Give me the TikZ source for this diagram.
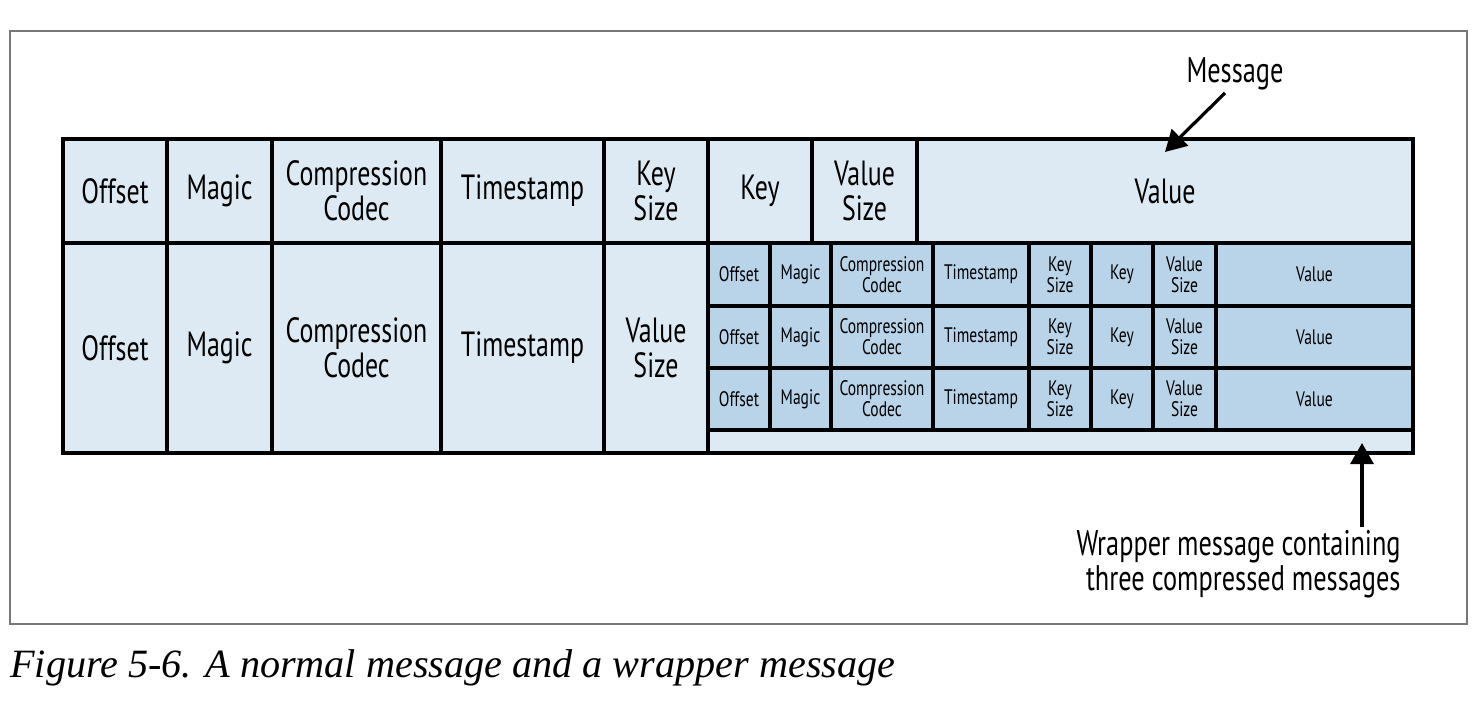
\documentclass[tikz,border=0pt]{standalone}
\usepackage{fontspec}
\setmainfont{PT Sans}[FakeStretch=0.74]
\newfontfamily\capfont{Liberation Serif}
\usetikzlibrary{fit,arrows.meta}
\definecolor{paleblue}{RGB}{221,234,243}
\definecolor{midblue}{RGB}{185,211,233}
\definecolor{framegray}{RGB}{120,120,120}
\begin{document}
\begin{tikzpicture}[x=0.5pt,y=-0.5pt,
  field/.style={draw=black, line width=2pt, fill=paleblue, inner sep=0pt},
  subfield/.style={draw=black, line width=1.6pt, fill=midblue, inner sep=0pt},
  ftext/.style={align=center, inner sep=0pt, font=\fontsize{17.5}{17.5}\selectfont},
  stext/.style={align=center, inner sep=0pt, font=\fontsize{10.5}{10.5}\selectfont},
  callout/.style={line width=1.6pt, -{Triangle[length=10.5pt,width=11.5pt]}},
  note/.style={align=right, inner sep=0pt, font=\fontsize{17.8}{17.5}\selectfont}]
\useasboundingbox (0,0) rectangle (1484,712);

% outer frame
\draw[framegray, line width=0.9pt] (10,31) rectangle (1467,624);

% normal message (top row)
\node[field, fit={(63,139) (167,243)},   label={[ftext]center:Offset}]               (tOff) {};
\node[field, fit={(167,139) (272,243)},  label={[ftext]center:Magic}]                (tMag) {};
\node[field, fit={(272,139) (441,243)},  label={[ftext]center:{Compression\\Codec}}] (tCmp) {};
\node[field, fit={(441,139) (604,243)},  label={[ftext]center:Timestamp}]            (tTs)  {};
\node[field, fit={(604,139) (708,243)},  label={[ftext]center:{Key\\Size}}]          (tKs)  {};
\node[field, fit={(708,139) (812,243)},  label={[ftext]center:Key}]                  (tKey) {};
\node[field, fit={(812,139) (917,243)},  label={[ftext]center:{Value\\Size}}]        (tVs)  {};
\node[field, fit={(917,139) (1413,243)}, label={[ftext]center:Value}]                (tVal) {};

% wrapper message (bottom row)
\node[field, fit={(63,243) (167,453)},   label={[ftext]center:Offset}]               (bOff) {};
\node[field, fit={(167,243) (272,453)},  label={[ftext]center:Magic}]                (bMag) {};
\node[field, fit={(272,243) (441,453)},  label={[ftext]center:{Compression\\Codec}}] (bCmp) {};
\node[field, fit={(441,243) (604,453)},  label={[ftext]center:Timestamp}]            (bTs)  {};
\node[field, fit={(604,243) (708,453)},  label={[ftext]center:{Value\\Size}}]        (bVs)  {};
\node[field, fit={(708,243) (1413,453)}] (wrap) {};

% three compressed inner messages
\foreach \r/\ya/\yb in {1/243/306, 2/306/368, 3/368/430}{
  \node[subfield, fit={(708,\ya) (770,\yb)},   label={[stext]center:Offset}]               (s\r-off) {};
  \node[subfield, fit={(770,\ya) (831,\yb)},   label={[stext]center:Magic}]                (s\r-mag) {};
  \node[subfield, fit={(831,\ya) (933,\yb)},   label={[stext]center:{Compression\\Codec}}] (s\r-cmp) {};
  \node[subfield, fit={(933,\ya) (1029,\yb)},  label={[stext]center:Timestamp}]            (s\r-ts)  {};
  \node[subfield, fit={(1029,\ya) (1091,\yb)}, label={[stext]center:{Key\\Size}}]          (s\r-ks)  {};
  \node[subfield, fit={(1091,\ya) (1153,\yb)}, label={[stext]center:Key}]                  (s\r-key) {};
  \node[subfield, fit={(1153,\ya) (1216,\yb)}, label={[stext]center:{Value\\Size}}]        (s\r-vs)  {};
  \node[subfield, fit={(1216,\ya) (1413,\yb)}, label={[stext]center:Value}]                (s\r-val) {};
}

% callouts
\node[note, anchor=base] (msg) at (1235,82) {Message};
\coordinate (msgtail) at (1225,93);
\coordinate (msgtip) at (1165,152);
\draw[callout] (msgtail) -- (msgtip);

\node[note, anchor=east] (wnote) at (1401,564) {Wrapper message containing\\three compressed messages};
\coordinate (wtail) at (1362,527);
\coordinate (wtip) at (1362,443);
\draw[callout] (wtail) -- (wtip);

% caption
\node[anchor=base west, inner sep=0pt, font=\capfont\itshape\fontsize{20.1}{24}\selectfont]
  (caption) at (10,677) {Figure 5-6. A normal message and a wrapper message};
\end{tikzpicture}
\end{document}
